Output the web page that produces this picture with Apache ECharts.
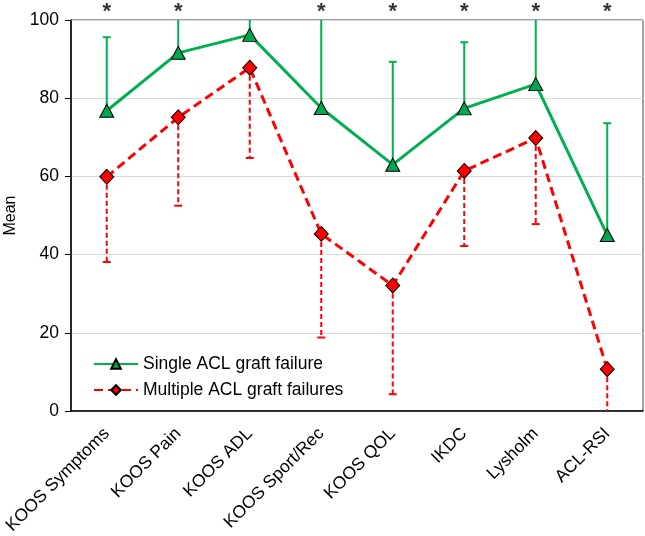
<!DOCTYPE html>
<html>
<head>
<meta charset="utf-8">
<script src="https://cdn.jsdelivr.net/npm/echarts@6/dist/echarts.min.js"></script>
<style>
html,body{margin:0;padding:0;background:#fff;}
#chart{width:645px;height:536px;}
</style>
</head>
<body>
<div id="chart"></div>
<script>
const categories = ['KOOS Symptoms', 'KOOS Pain', 'KOOS ADL', 'KOOS Sport/Rec', 'KOOS QOL', 'IKDC', 'Lysholm', 'ACL-RSI'];
const singleName = 'Single ACL graft failure';
const multipleName = 'Multiple ACL graft failures';
const singleMean = [76.8, 91.6, 96.2, 77.5, 63.0, 77.4, 83.6, 45.0];
const singleUpper = [95.6, 100, 100, 100, 89.3, 94.3, 100, 73.6];
const multipleMean = [59.9, 75.1, 87.8, 45.3, 32.1, 61.4, 69.8, 10.7];
const multipleLower = [38.1, 52.5, 64.7, 18.8, 4.3, 42.2, 47.8, 0];
const significant = [true, true, false, true, true, true, true, true];
const yMin = 0, yMax = 100, yInterval = 20;

const FONT = '"Liberation Sans", Arial, sans-serif';
const GREEN = '#00b050';
const GREEN_FILL = '#00a650';
const RED = '#ff0000';

const chart = echarts.init(document.getElementById('chart'), null, {renderer: 'canvas'});

function errorBar(color, dashed) {
  return function (params, api) {
    const x = api.value(0);
    const a = api.coord([x, api.value(1)]);
    const b = api.coord([x, api.value(2)]);
    const style = {stroke: color, lineWidth: 2, lineDash: dashed ? [5, 3] : null};
    const children = [{
      type: 'line',
      shape: {x1: a[0], y1: a[1], x2: b[0], y2: b[1]},
      style: style
    }];
    const v = api.value(2);
    if (v < yMax && v > yMin) {
      children.push({
        type: 'line',
        shape: {x1: b[0] - 4, y1: b[1], x2: b[0] + 4, y2: b[1]},
        style: {stroke: color, lineWidth: 2}
      });
    }
    return {type: 'group', children: children};
  };
}

const option = {
  animation: false,
  backgroundColor: '#ffffff',
  textStyle: {fontFamily: FONT},
  grid: {left: 71, right: 2, top: 20, bottom: 125, show: true, borderColor: '#404040', borderWidth: 1, containLabel: false, outerBoundsMode: 'none'},
  legend: {
    data: [singleName, multipleName],
    orient: 'vertical',
    left: 88,
    top: 350,
    itemWidth: 44,
    itemHeight: 12,
    itemGap: 8,
    textStyle: {fontFamily: FONT, fontSize: 17.5, color: '#000'}
  },
  xAxis: {
    type: 'category',
    data: categories,
    boundaryGap: true,
    axisLine: {lineStyle: {color: '#000', width: 1.5}},
    axisTick: {alignWithLabel: true, length: 6, lineStyle: {color: '#000'}},
    axisLabel: {rotate: 45, fontFamily: FONT, fontSize: 17.5, color: '#000', margin: 20, interval: 0}
  },
  yAxis: {
    type: 'value',
    min: yMin, max: yMax, interval: yInterval,
    name: 'Mean',
    nameLocation: 'middle',
    nameGap: 51,
    nameTextStyle: {fontFamily: FONT, fontSize: 16, color: '#000'},
    axisLine: {show: true, lineStyle: {color: '#000', width: 1.5}},
    axisTick: {show: true, length: 6, lineStyle: {color: '#000'}},
    axisLabel: {fontFamily: FONT, fontSize: 17.5, color: '#000', margin: 12},
    splitLine: {show: true, lineStyle: {color: '#d9d9d9', width: 1}}
  },
  series: [
    {
      name: 'singleErr',
      type: 'custom',
      renderItem: errorBar(GREEN, false),
      data: singleMean.map((m, i) => [i, m, singleUpper[i]]),
      encode: {x: 0, y: [1, 2]},
      z: 1,
      silent: true
    },
    {
      name: 'multipleErr',
      type: 'custom',
      renderItem: errorBar(RED, true),
      data: multipleMean.map((m, i) => [i, m, multipleLower[i]]),
      encode: {x: 0, y: [1, 2]},
      z: 1,
      silent: true
    },
    {
      name: singleName,
      type: 'line',
      data: singleMean,
      symbol: 'triangle',
      symbolSize: [14, 13],
      lineStyle: {color: GREEN, width: 3},
      itemStyle: {color: GREEN_FILL, borderColor: '#000', borderWidth: 1},
      z: 3
    },
    {
      name: multipleName,
      type: 'line',
      data: multipleMean,
      symbol: 'diamond',
      symbolSize: [14, 15],
      lineStyle: {color: RED, width: 3, type: [9, 5]},
      itemStyle: {color: RED, borderColor: '#000', borderWidth: 1},
      z: 4
    },
    {
      name: 'sig',
      type: 'scatter',
      data: significant.map((s, i) => s ? [i, yMax] : null).filter(d => d),
      symbolSize: 0,
      clip: false,
      silent: true,
      label: {show: true, position: 'top', distance: -3, formatter: '*', fontFamily: FONT, fontSize: 22, fontWeight: 'bold', color: '#000'}
    }
  ]
};
chart.setOption(option);
</script>
</body>
</html>
